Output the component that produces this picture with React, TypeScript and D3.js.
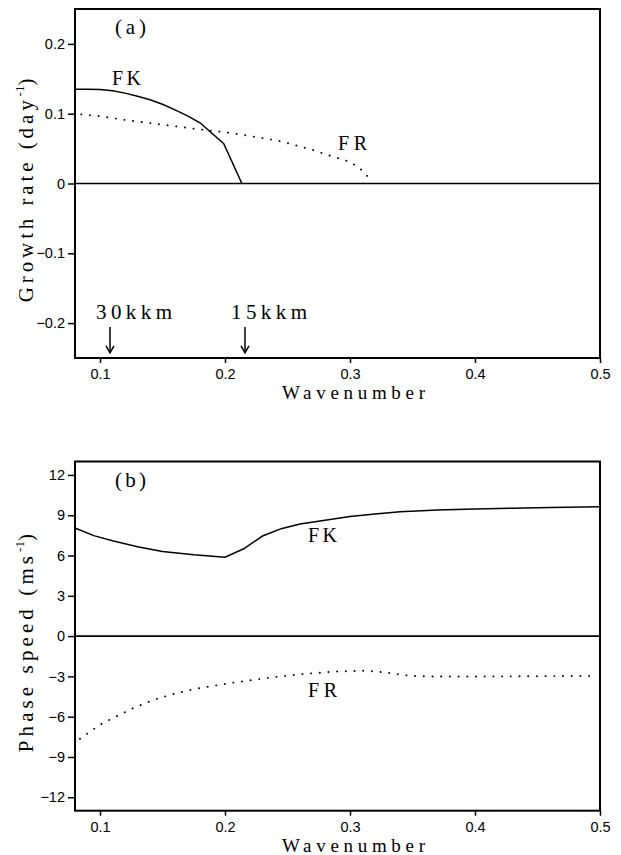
import React, { useEffect, useRef } from 'react'
import { axisBottom, axisLeft, line, scaleLinear, select } from 'd3'

// shared wavenumber axis
const kDomain = [0.08, 0.5]
const kTicks = [0.1, 0.2, 0.3, 0.4, 0.5]

// (a) growth rate (day^-1)
const growthTicks = [-0.2, -0.1, 0, 0.1, 0.2]
const growthFKk = [0.08, 0.09, 0.10, 0.11, 0.12, 0.13, 0.14, 0.15, 0.16, 0.17, 0.18, 0.199, 0.2135]
const growthFK = [0.135, 0.135, 0.1345, 0.133, 0.1295, 0.125, 0.120, 0.1135, 0.1055, 0.097, 0.087, 0.057, 0]
const growthFRk = [0.085, 0.10, 0.12, 0.14, 0.16, 0.18, 0.20, 0.22, 0.244, 0.26, 0.2706, 0.2866, 0.30, 0.308, 0.316]
const growthFR = [0.099, 0.0964, 0.091, 0.0866, 0.082, 0.0775, 0.0735, 0.068, 0.0607, 0.053, 0.0479, 0.0383, 0.031, 0.0217, 0.0064]
const arrowK = [0.108, 0.216]
const arrowLabels = ['30kkm', '15kkm']

// (b) phase speed (ms^-1)
const speedTicks = [-12, -9, -6, -3, 0, 3, 6, 9, 12]
const speedFKk = [0.08, 0.095, 0.11, 0.13, 0.15, 0.175, 0.20, 0.215, 0.23, 0.245, 0.26, 0.28, 0.30, 0.32, 0.34, 0.37, 0.40, 0.43, 0.46, 0.50]
const speedFK = [8.05, 7.48, 7.1, 6.65, 6.3, 6.05, 5.87, 6.5, 7.45, 8.0, 8.35, 8.62, 8.9, 9.1, 9.26, 9.39, 9.47, 9.52, 9.57, 9.63]
const speedFRk = [0.084, 0.10, 0.113, 0.127, 0.143, 0.159, 0.175, 0.191, 0.207, 0.223, 0.239, 0.255, 0.271, 0.287, 0.313, 0.329, 0.348, 0.367, 0.42, 0.495]
const speedFR = [-7.65, -6.59, -5.98, -5.35, -4.74, -4.3, -3.95, -3.7, -3.46, -3.26, -3.06, -2.89, -2.76, -2.64, -2.57, -2.72, -2.96, -3.01, -3.0, -2.96]

const SERIF = 'Liberation Serif, serif'
const SANS = 'Liberation Sans, Arial, sans-serif'

const fmtTick = (d: number) => (d < 0 ? '\u2212' + Math.abs(d) : String(d))

const App = () => {
    const svgRef = useRef<SVGSVGElement>(null)

    useEffect(() => {
        const svg = select(svgRef.current)
        svg.selectAll('*').remove()

        const left = 75, right = 600
        const xScale = scaleLinear().domain(kDomain).range([left, right])

        const drawPanel = (opts: any) => {
            const { top, bottom, yDomain, yTicks, series, panelLabel, yLabel, ySup, yLabelSpacing } = opts
            const yScale = scaleLinear().domain(yDomain).range([bottom, top])
            const g = svg.append('g')

            // axes
            const xAxis = axisBottom(xScale).tickValues(kTicks).tickSize(5).tickPadding(6)
                .tickFormat((d: any) => String(d))
            const yAxis = axisLeft(yScale).tickValues(yTicks).tickSize(7).tickPadding(3)
                .tickFormat((d: any) => fmtTick(d))

            const gx = g.append('g').attr('transform', `translate(0,${bottom})`).call(xAxis)
            const gy = g.append('g').attr('transform', `translate(${left},0)`).call(yAxis)
            for (const ax of [gx, gy]) {
                ax.select('.domain').remove()
                ax.selectAll('line').attr('stroke', '#000').attr('stroke-width', 1.5)
                ax.selectAll('text').attr('font-family', SANS).attr('font-size', 14.5).attr('fill', '#000')
            }

            // zero line
            g.append('line')
                .attr('x1', left).attr('x2', right)
                .attr('y1', yScale(0)).attr('y2', yScale(0))
                .attr('stroke', '#000').attr('stroke-width', 1.6)

            // curves
            series.forEach((s: any) => {
                const pts = s.k.map((k: number, i: number) => [k, s.v[i]])
                const ln = line().x((d: any) => xScale(d[0])).y((d: any) => yScale(d[1]))
                const p = g.append('path')
                    .datum(pts)
                    .attr('d', ln as any)
                    .attr('fill', 'none')
                    .attr('stroke', '#000')
                if (s.dotted) {
                    p.attr('stroke-width', 1.9).attr('stroke-linecap', 'round').attr('stroke-dasharray', '0.1 8.6')
                } else {
                    p.attr('stroke-width', 1.5)
                }
                g.append('text')
                    .attr('x', xScale(s.labelAt[0])).attr('y', yScale(s.labelAt[1]))
                    .attr('font-family', SERIF).attr('font-size', 20)
                    .attr('textLength', 29).attr('lengthAdjust', 'spacing')
                    .text(s.name)
            })

            // frame
            g.append('rect')
                .attr('x', left).attr('y', top)
                .attr('width', right - left).attr('height', bottom - top)
                .attr('fill', 'none').attr('stroke', '#000').attr('stroke-width', 2)

            // panel letter
            g.append('text')
                .attr('x', 115).attr('y', top + 25)
                .attr('font-family', SERIF).attr('font-size', 21)
                .attr('textLength', 31).attr('lengthAdjust', 'spacing')
                .text(panelLabel)

            // axis titles
            g.append('text')
                .attr('x', 282).attr('y', bottom + 41)
                .attr('font-family', SERIF).attr('font-size', 19)
                .attr('textLength', 143).attr('lengthAdjust', 'spacing')
                .text('Wavenumber')

            const yl = g.append('text')
                .attr('transform', `translate(33,${(top + bottom) / 2 + 5}) rotate(-90)`)
                .attr('text-anchor', 'middle')
                .attr('font-family', SERIF).attr('font-size', 21)
                .attr('letter-spacing', yLabelSpacing)
            yl.append('tspan').text(yLabel + '(' + ySup[0])
            yl.append('tspan').attr('font-size', 13).attr('dy', -9).attr('letter-spacing', 0).text('-1')
            yl.append('tspan').attr('dy', 9).text(')')

            return yScale
        }

        const yA = drawPanel({
            top: 9, bottom: 358,
            yDomain: [-0.25, 0.25], yTicks: growthTicks,
            panelLabel: '(a)',
            yLabel: 'Growth rate ', ySup: ['day'], yLabelSpacing: 3.9,
            series: [
                { name: 'FK', k: growthFKk, v: growthFK, dotted: false, labelAt: [0.1096, 0.1407] },
                { name: 'FR', k: growthFRk, v: growthFR, dotted: true, labelAt: [0.2904, 0.0479] },
            ],
        })

        // wavelength arrows
        arrowK.forEach((k, i) => {
            const x = xScale(k)
            const y0 = yA(-0.2055), y1 = yA(-0.2426)
            svg.append('line').attr('x1', x).attr('x2', x).attr('y1', y0).attr('y2', y1)
                .attr('stroke', '#000').attr('stroke-width', 1.5)
            svg.append('path')
                .attr('d', `M${x - 4},${y1 - 7}L${x},${y1}L${x + 4},${y1 - 7}`)
                .attr('fill', 'none').attr('stroke', '#000').attr('stroke-width', 1.5)
            svg.append('text')
                .attr('x', x - 14).attr('y', y0 - 8)
                .attr('font-family', SERIF).attr('font-size', 21)
                .attr('textLength', 76).attr('lengthAdjust', 'spacing')
                .text(arrowLabels[i])
        })

        drawPanel({
            top: 461.5, bottom: 810.7,
            yDomain: [-13, 13], yTicks: speedTicks,
            panelLabel: '(b)',
            yLabel: 'Phase speed ', ySup: ['ms'], yLabelSpacing: 4.1,
            series: [
                { name: 'FK', k: speedFKk, v: speedFK, dotted: false, labelAt: [0.2664, 6.98] },
                { name: 'FR', k: speedFRk, v: speedFR, dotted: true, labelAt: [0.2664, -4.5] },
            ],
        })
    }, [])

    return (
        <svg ref={svgRef} width={621} height={855}
            style={{ position: 'absolute', left: 0, top: 0, background: '#fff' }} />
    )
}

export default App
